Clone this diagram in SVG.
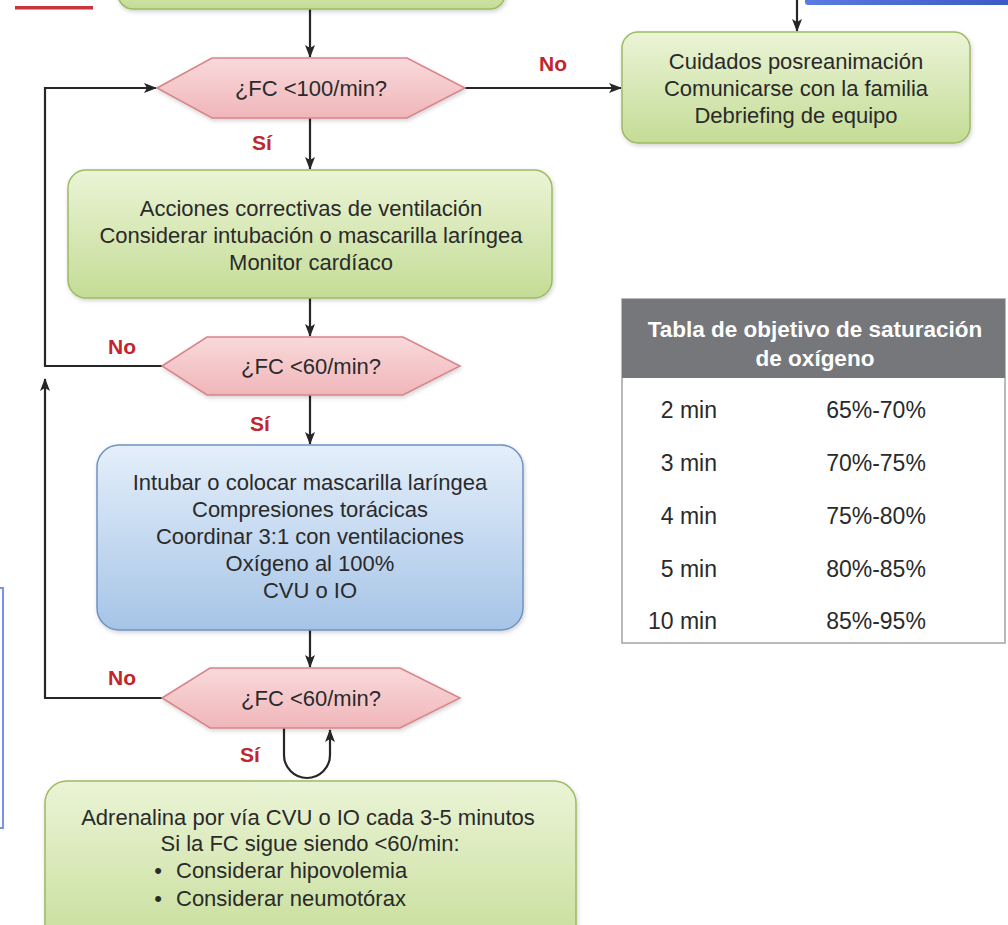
<svg xmlns="http://www.w3.org/2000/svg" width="1008" height="925" viewBox="0 0 1008 925">
  <style>
    .t { font-family: "Liberation Sans", Arial, sans-serif; font-size: 22px; fill: #2a2a2a; text-anchor: middle; }
    .row { font-size: 23px; }
    .lbl { font-family: "Liberation Sans", Arial, sans-serif; font-size: 21px; font-weight: bold; fill: #c0262e; text-anchor: middle; }
    .hdr { font-family: "Liberation Sans", Arial, sans-serif; font-size: 22.5px; font-weight: bold; fill: #ffffff; text-anchor: middle; }
    .green { fill: url(#gGreen); stroke: #9cbb62; stroke-width: 1.5; }
    .pink { fill: url(#gPink); stroke: #d7848b; stroke-width: 1.5; }
    .blue { fill: url(#gBlue); stroke: #6f93c4; stroke-width: 1.5; }
    .edge { fill: none; stroke: #262626; stroke-width: 2.2; }
    .arr { marker-end: url(#head); }
  </style>
  <defs>
    <linearGradient id="gGreen" x1="0" y1="0" x2="0" y2="1">
      <stop offset="0" stop-color="#ebf4d6"/>
      <stop offset="1" stop-color="#c4dc96"/>
    </linearGradient>
    <linearGradient id="gPink" x1="0" y1="0" x2="0" y2="1">
      <stop offset="0" stop-color="#f9d9da"/>
      <stop offset="1" stop-color="#f0b6ba"/>
    </linearGradient>
    <linearGradient id="gBlue" x1="0" y1="0" x2="0" y2="1">
      <stop offset="0" stop-color="#e4effa"/>
      <stop offset="1" stop-color="#a6c4e7"/>
    </linearGradient>
    <linearGradient id="gBar" x1="0" y1="0" x2="1" y2="0">
      <stop offset="0" stop-color="#5a7be0"/>
      <stop offset="1" stop-color="#3b59c4"/>
    </linearGradient>
    <filter id="shadow" x="-5%" y="-5%" width="110%" height="120%">
      <feDropShadow dx="1" dy="2" stdDeviation="2" flood-color="#000" flood-opacity="0.18"/>
    </filter>
    <marker id="head" viewBox="0 0 13 10" refX="12" refY="5" markerWidth="13" markerHeight="10" markerUnits="userSpaceOnUse" orient="auto">
      <path d="M0,0 L13,5 L0,10 L3,5 z" fill="#262626"/>
    </marker>
  </defs>

  <rect width="1008" height="925" fill="#ffffff"/>

  <!-- page fragments along the edges -->
  <rect x="15" y="6" width="78" height="3.5" fill="#c8363d"/>
  <rect x="805" y="-4" width="210" height="9" rx="3" fill="url(#gBar)"/>
  <rect x="-20" y="588" width="23" height="240" fill="none" stroke="#7b8ff5" stroke-width="2"/>

  <!-- connectors -->
  <g id="connectors">
    <path class="edge arr" d="M310,9 V57"/>
    <path class="edge arr" d="M797,0 V31"/>
    <path class="edge arr" d="M465,88 H621"/>
    <path class="edge arr" d="M310,118 V169"/>
    <path class="edge arr" d="M310,298 V336"/>
    <path class="edge arr" d="M162,366 H45 V88 H156"/>
    <path class="edge arr" d="M310,395 V444"/>
    <path class="edge arr" d="M310,630 V667"/>
    <path class="edge arr" d="M162,698 H45 V379"/>
    <path class="edge arr" d="M284,728 V755 A23,23 0 0 0 330,755 V730"/>
  </g>

  <!-- edge labels -->
  <g id="labels">
    <text class="lbl" x="553" y="71">No</text>
    <text class="lbl" x="262" y="150">Sí</text>
    <text class="lbl" x="122" y="354">No</text>
    <text class="lbl" x="260" y="431">Sí</text>
    <text class="lbl" x="122" y="685">No</text>
    <text class="lbl" x="250" y="762">Sí</text>
  </g>

  <g id="node-top">
    <rect class="green" x="118" y="-40" width="387" height="49" rx="15" filter="url(#shadow)"/>
  </g>

  <g id="node-fc100">
    <polygon class="pink" points="157,88 212,58 407,58 465,88 407,118 212,118" filter="url(#shadow)"/>
    <text class="t" x="311" y="96">¿FC &lt;100/min?</text>
  </g>

  <g id="node-posreanimacion">
    <rect class="green" x="622" y="32" width="348" height="111" rx="16" filter="url(#shadow)"/>
    <text class="t" x="796" y="69">Cuidados posreanimación</text>
    <text class="t" x="796" y="96">Comunicarse con la familia</text>
    <text class="t" x="796" y="123">Debriefing de equipo</text>
  </g>

  <g id="node-correctivas">
    <rect class="green" x="68" y="170" width="484" height="128" rx="18" filter="url(#shadow)"/>
    <text class="t" x="311" y="216">Acciones correctivas de ventilación</text>
    <text class="t" x="311" y="243">Considerar intubación o mascarilla laríngea</text>
    <text class="t" x="311" y="270">Monitor cardíaco</text>
  </g>

  <g id="node-fc60a">
    <polygon class="pink" points="162,366 207,337 403,337 460,366 403,395 207,395" filter="url(#shadow)"/>
    <text class="t" x="311" y="374">¿FC &lt;60/min?</text>
  </g>

  <g id="node-compresiones">
    <rect class="blue" x="97" y="445" width="426" height="185" rx="22" filter="url(#shadow)"/>
    <text class="t" x="310" y="490">Intubar o colocar mascarilla laríngea</text>
    <text class="t" x="310" y="517">Compresiones torácicas</text>
    <text class="t" x="310" y="544">Coordinar 3:1 con ventilaciones</text>
    <text class="t" x="310" y="571">Oxígeno al 100%</text>
    <text class="t" x="310" y="598">CVU o IO</text>
  </g>

  <g id="node-fc60b">
    <polygon class="pink" points="162,698 210,668 400,668 460,698 400,728 210,728" filter="url(#shadow)"/>
    <text class="t" x="311" y="706">¿FC &lt;60/min?</text>
  </g>

  <g id="node-adrenalina">
    <rect class="green" x="45" y="781" width="531" height="180" rx="22" filter="url(#shadow)"/>
    <text class="t" x="308" y="825">Adrenalina por vía CVU o IO cada 3-5 minutos</text>
    <text class="t" x="310" y="851">Si la FC sigue siendo &lt;60/min:</text>
    <text class="t" x="158" y="878">•</text>
    <text class="t" x="176" y="878" style="text-anchor:start">Considerar hipovolemia</text>
    <text class="t" x="158" y="906">•</text>
    <text class="t" x="176" y="906" style="text-anchor:start">Considerar neumotórax</text>
  </g>

  <g id="table-saturacion">
    <rect x="622" y="299" width="383" height="344" fill="#ffffff" stroke="#a3a3a3" stroke-width="1.5"/>
    <rect x="622" y="299" width="383" height="79" fill="#76777a"/>
    <text class="hdr" x="815" y="337">Tabla de objetivo de saturación</text>
    <text class="hdr" x="815" y="366">de oxígeno</text>
    <g class="rows">
      <text class="t row" x="717" y="418" style="text-anchor:end">2 min</text>
      <text class="t row" x="876" y="418">65%-70%</text>
      <text class="t row" x="717" y="471" style="text-anchor:end">3 min</text>
      <text class="t row" x="876" y="471">70%-75%</text>
      <text class="t row" x="717" y="524" style="text-anchor:end">4 min</text>
      <text class="t row" x="876" y="524">75%-80%</text>
      <text class="t row" x="717" y="577" style="text-anchor:end">5 min</text>
      <text class="t row" x="876" y="577">80%-85%</text>
      <text class="t row" x="717" y="629" style="text-anchor:end">10 min</text>
      <text class="t row" x="876" y="629">85%-95%</text>
    </g>
  </g>
</svg>
